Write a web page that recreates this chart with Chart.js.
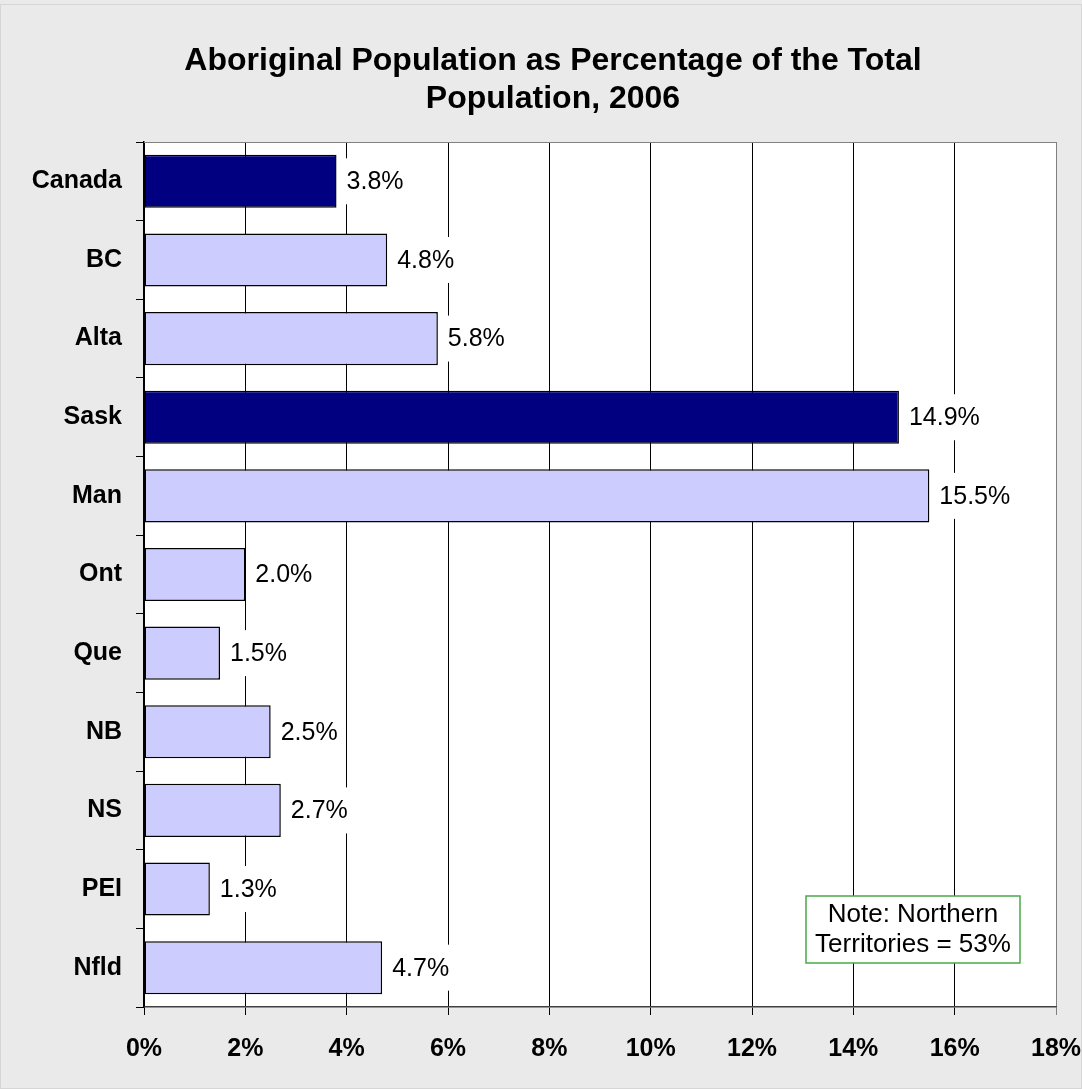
<!DOCTYPE html>
<html>
<head>
<meta charset="utf-8">
<script src="https://cdn.jsdelivr.net/npm/chart.js@4.4.1/dist/chart.umd.min.js"></script>
<style>
  html, body { margin: 0; padding: 0; background: #ffffff; }
  #grafico { display: block; }
</style>
</head>
<body>
<canvas id="grafico" width="1082" height="1089"></canvas>
<script>
const regiones = ["Canada", "BC", "Alta", "Sask", "Man", "Ont", "Que", "NB", "NS", "PEI", "Nfld"];
const porcentajes = [3.8, 4.8, 5.8, 14.9, 15.5, 2.0, 1.5, 2.5, 2.7, 1.3, 4.7];
const destacadas = ["Canada", "Sask"];
const marcasX = [0, 2, 4, 6, 8, 10, 12, 14, 16, 18];
const titulo = ["Aboriginal Population as Percentage of the Total", "Population, 2006"];
const nota = ["Note: Northern", "Territories = 53%"];

const FUENTE = "'Liberation Sans', Arial, sans-serif";
const colores = regiones.map((r) => destacadas.includes(r) ? "#000080" : "#ccccff");

// fondo gris y area de trazado blanca
const fondo = {
    id: "fondo",
    beforeDraw(chart) {
        const { ctx, chartArea: a, width, height } = chart;
        ctx.save();
        ctx.fillStyle = "#eaeaea";
        ctx.fillRect(0, 0, width, height);
        ctx.strokeStyle = "#d6d6d6";
        ctx.lineWidth = 1;
        ctx.strokeRect(0.5, 4.5, width - 1, height - 5);
        ctx.fillStyle = "#ffffff";
        ctx.fillRect(a.left, a.top, a.right - a.left, a.bottom - a.top);
        ctx.restore();
    },
    afterDraw(chart) {
        const { ctx, chartArea: a } = chart;
        ctx.save();
        // borde superior del area
        ctx.strokeStyle = "#808080";
        ctx.lineWidth = 1;
        ctx.beginPath();
        ctx.moveTo(a.left, a.top + 0.5);
        ctx.lineTo(a.right, a.top + 0.5);
        ctx.stroke();
        // titulo
        ctx.fillStyle = "#000";
        ctx.font = "bold 32px " + FUENTE;
        ctx.textAlign = "center";
        ctx.textBaseline = "middle";
        titulo.forEach((t, i) => ctx.fillText(t, 553, 61 + i * 38));
        // recuadro de nota
        ctx.fillStyle = "#ffffff";
        ctx.fillRect(806, 896, 214, 67);
        ctx.strokeStyle = "#4aa84a";
        ctx.lineWidth = 1.5;
        ctx.strokeRect(806, 896, 214, 67);
        ctx.fillStyle = "#000";
        ctx.font = "26px " + FUENTE;
        nota.forEach((t, i) => ctx.fillText(t, 913, 915 + i * 30));
        ctx.restore();
    },
};

// etiquetas de valor al final de cada barra
const etiquetas = {
    id: "etiquetas",
    afterDatasetsDraw(chart) {
        const { ctx } = chart;
        const meta = chart.getDatasetMeta(0);
        ctx.save();
        ctx.font = "25px " + FUENTE;
        ctx.textBaseline = "middle";
        ctx.textAlign = "left";
        meta.data.forEach((barra, i) => {
            const texto = porcentajes[i].toFixed(1) + "%";
            const w = ctx.measureText(texto).width;
            ctx.fillStyle = "#ffffff";
            ctx.fillRect(barra.x + 4, barra.y - 23, w + 12, 46);
            ctx.fillStyle = "#000";
            ctx.fillText(texto, barra.x + 10, barra.y + 1);
        });
        ctx.restore();
    },
};

new Chart(document.getElementById("grafico"), {
    type: "bar",
    data: {
        labels: regiones,
        datasets: [{
            data: porcentajes,
            backgroundColor: colores,
            borderColor: "#000",
            borderWidth: 1.5,
            borderSkipped: false,
            barPercentage: 1,
            categoryPercentage: 0.675,
        }],
    },
    options: {
        indexAxis: "y",
        responsive: false,
        animation: false,
        layout: { padding: { top: 142, right: 26, left: 0, bottom: 0 } },
        plugins: { legend: { display: false }, title: { display: false }, tooltip: { enabled: false } },
        scales: {
            x: {
                type: "linear",
                min: 0,
                max: 18,
                afterBuildTicks: (s) => { s.ticks = marcasX.map((v) => ({ value: v })); },
                afterFit: (s) => {
                    s.height = 82;
                    s.paddingLeft = 0;
                    s.paddingRight = 0;
                },
                ticks: {
                    callback: (v) => v + "%",
                    color: "#000",
                    font: { family: FUENTE, size: 25, weight: "bold" },
                    padding: 19,
                    maxRotation: 0,
                },
                grid: {
                    color: (c) => c.index === marcasX.length - 1 ? "#808080" : "#000",
                    lineWidth: 1,
                    tickLength: 8,
                },
                border: { display: true, color: "#404040", width: 1.5 },
            },
            y: {
                afterFit: (s) => { s.width = 144; },
                ticks: {
                    color: "#000",
                    font: { family: FUENTE, size: 25, weight: "bold" },
                    padding: 14,
                },
                grid: {
                    offset: true,
                    drawOnChartArea: false,
                    color: "#000",
                    tickLength: 8,
                },
                border: { display: true, color: "#000", width: 1.5 },
            },
        },
    },
    plugins: [fondo, etiquetas],
});
</script>
</body>
</html>
